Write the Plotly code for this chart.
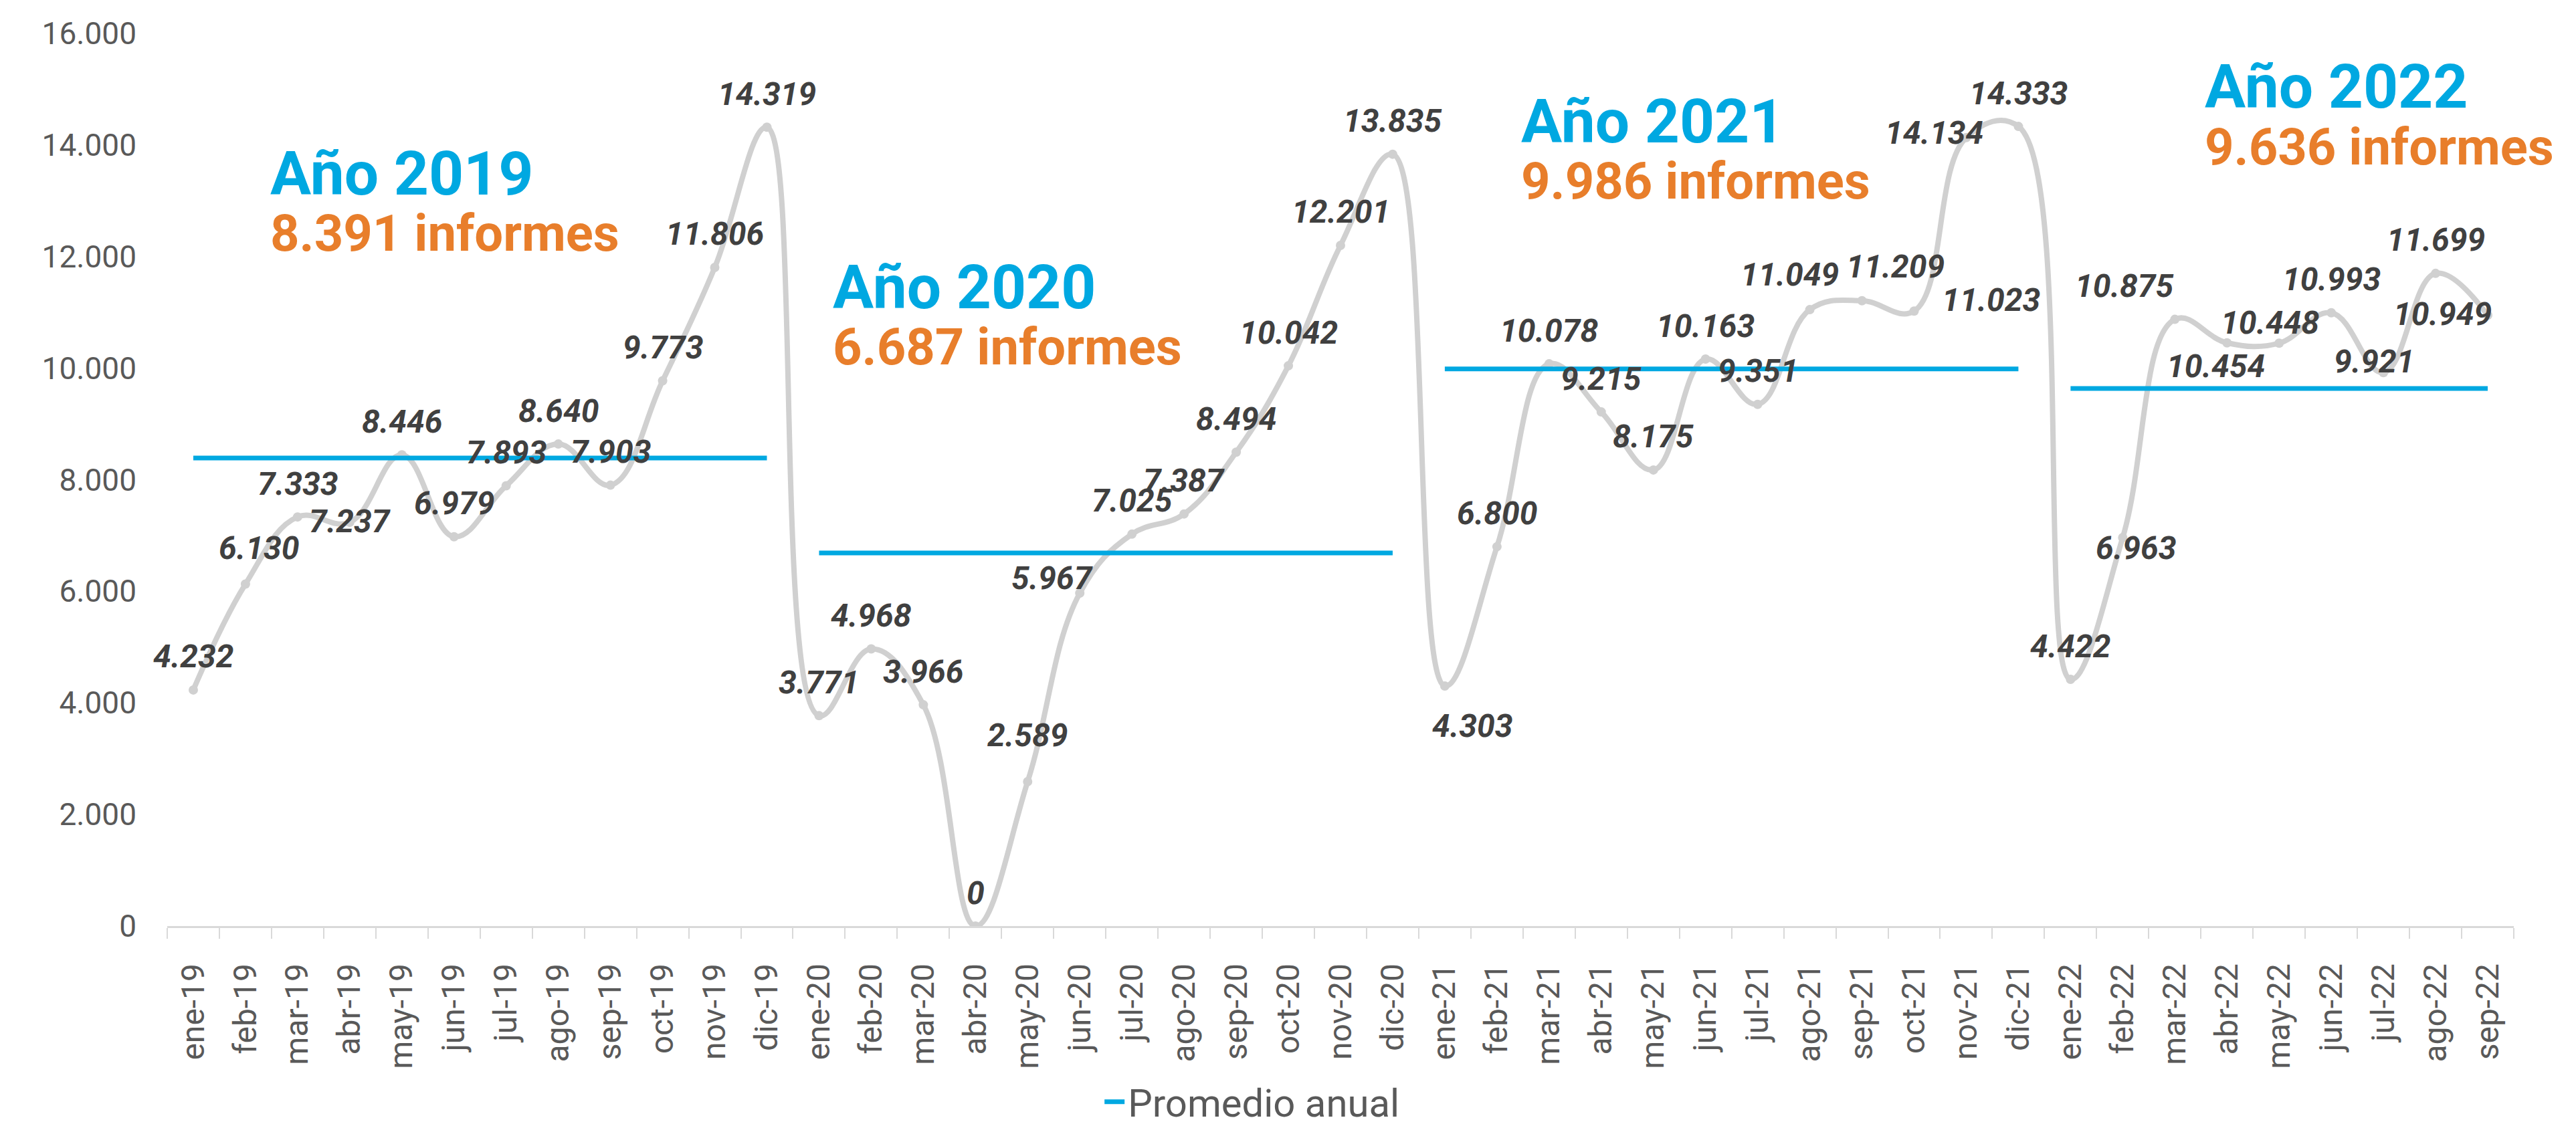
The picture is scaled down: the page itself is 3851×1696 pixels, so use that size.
import plotly.graph_objects as go

# monthly report counts, ene-19 .. sep-22
months = [
    "ene-19", "feb-19", "mar-19", "abr-19", "may-19", "jun-19", "jul-19", "ago-19", "sep-19", "oct-19", "nov-19", "dic-19",
    "ene-20", "feb-20", "mar-20", "abr-20", "may-20", "jun-20", "jul-20", "ago-20", "sep-20", "oct-20", "nov-20", "dic-20",
    "ene-21", "feb-21", "mar-21", "abr-21", "may-21", "jun-21", "jul-21", "ago-21", "sep-21", "oct-21", "nov-21", "dic-21",
    "ene-22", "feb-22", "mar-22", "abr-22", "may-22", "jun-22", "jul-22", "ago-22", "sep-22",
]
informes = [
    4232, 6130, 7333, 7237, 8446, 6979, 7893, 8640, 7903, 9773, 11806, 14319,
    3771, 4968, 3966, 0, 2589, 5967, 7025, 7387, 8494, 10042, 12201, 13835,
    4303, 6800, 10078, 9215, 8175, 10163, 9351, 11049, 11209, 11023, 14134, 14333,
    4422, 6963, 10875, 10454, 10448, 10993, 9921, 11699, 10949,
]

# yearly averages
years = ["2019", "2020", "2021", "2022"]
promedio = [8391, 6687, 9986, 9636]
year_first = ["ene-19", "ene-20", "ene-21", "ene-22"]
year_last = ["dic-19", "dic-20", "dic-21", "sep-22"]

GRAY = "rgb(208,208,208)"
BLUE = "rgb(0,168,225)"
ORANGE = "rgb(232,126,43)"
TEXT = "#595959"
LABEL = "#404040"

# label nudges (px) where the original labels were moved off the default "above"
label_shift = {
    1: (20, -54), 3: (0, -2), 16: (0, -69), 17: (-41, -23), 24: (41, 60),
    31: (-30, -53), 32: (50, -51), 33: (115, -17), 34: (-48, -7),
    37: (20, 15), 38: (-76, -50), 39: (-17, 35), 40: (-14, -31),
    42: (-14, -17), 44: (-68, -2),
}


def fmt(v):
    return f"{v:,}".replace(",", ".")


fig = go.Figure()

fig.add_trace(go.Scatter(
    x=months, y=informes, mode="lines+markers",
    line=dict(color=GRAY, width=8, shape="spline", smoothing=1.15),
    marker=dict(color=GRAY, size=14),
    showlegend=False, hoverinfo="skip",
))

avg_x, avg_y = [], []
for a, b, v in zip(year_first, year_last, promedio):
    avg_x += [a, b, None]
    avg_y += [v, v, None]

fig.add_trace(go.Scatter(
    x=avg_x, y=avg_y, mode="lines", name="Promedio anual",
    line=dict(color=BLUE, width=7),
))

for i, (m, v) in enumerate(zip(months, informes)):
    dx, dy = label_shift.get(i, (0, -50))
    fig.add_annotation(
        x=m, y=v, text=fmt(v), showarrow=False,
        xanchor="center", yanchor="middle", xshift=dx, yshift=-dy,
        font=dict(family="Roboto", size=48, color=LABEL, weight="bold", style="italic"),
    )

# year headings (category index / value placement)
head_pos = [(1.45, 13480, 12420), (12.24, 11445, 10385), (25.44, 14420, 13350), (38.55, 15045, 13960)]
for yr, avg, (hx, hy1, hy2) in zip(years, promedio, head_pos):
    fig.add_annotation(
        x=hx, y=hy1, text=f"Año {yr}", showarrow=False, xanchor="left", yanchor="middle",
        font=dict(family="Roboto", size=91, color=BLUE, weight="bold"),
    )
    fig.add_annotation(
        x=hx, y=hy2, text=f"{fmt(avg)} informes", showarrow=False, xanchor="left", yanchor="middle",
        font=dict(family="Roboto", size=76, color=ORANGE, weight="bold"),
    )

fig.update_layout(
    width=3851, height=1696,
    margin=dict(l=242, r=101, t=42, b=294),
    plot_bgcolor="white", paper_bgcolor="white",
    separators=",.",
    font=dict(family="Roboto", color=TEXT),
    legend=dict(
        orientation="h", x=0.398, xanchor="left", y=-0.197, yanchor="middle",
        font=dict(family="Roboto", size=58, color=TEXT),
        bgcolor="rgba(0,0,0,0)",
    ),
    xaxis=dict(
        type="category", categoryorder="array", categoryarray=months,
        range=[-0.5, len(months) - 0.5],
        showgrid=False, showline=True, linecolor="#D9D9D9", linewidth=2.5,
        ticks="outside", tickson="boundaries", ticklen=16, tickwidth=2, tickcolor="#D9D9D9",
        tickangle=-90, ticklabelstandoff=34,
        tickfont=dict(family="Roboto", size=48, color=TEXT),
        zeroline=False,
    ),
    yaxis=dict(
        range=[0, 16000], dtick=2000, tickformat=",d",
        showgrid=False, showline=False, zeroline=False,
        ticks="", ticklabelstandoff=45,
        tickfont=dict(family="Roboto", size=46, color=TEXT),
    ),
)

fig.write_html("out.html")
